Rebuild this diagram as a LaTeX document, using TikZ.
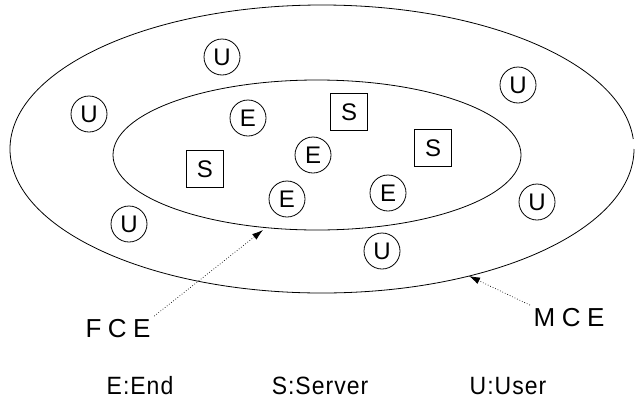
\documentclass[tikz,border=0pt]{standalone}
\usepackage{fontspec}
\setmainfont{Liberation Sans}
\newfontfamily\narrowfont[FakeStretch=0.92]{Liberation Sans}
\usetikzlibrary{arrows.meta}
\begin{document}
\begin{tikzpicture}[x=1pt,y=-1pt,line width=0.8pt,
  unode/.style={draw,circle,minimum size=36pt,inner sep=0pt,font=\fontsize{24}{24}\selectfont},
  snode/.style={draw,rectangle,minimum size=37pt,inner sep=0pt,font=\fontsize{24}{24}\selectfont},
  lbl/.style={font=\fontsize{26}{26}\selectfont\addfontfeature{LetterSpace=25}},
  leg/.style={font=\narrowfont\fontsize{25}{25}\selectfont\addfontfeature{LetterSpace=4}},
  ptr/.style={dotted,line width=0.7pt,-{Latex[length=11pt,width=7pt]}}]
\useasboundingbox (0,0) rectangle (637,410);
% ellipses
\draw (322,149) ++(0:312 and 144) arc[start angle=0,end angle=356,x radius=312,y radius=144];
\draw (317,155) ellipse[x radius=204,y radius=75];
% users
\node[unode] (u1) at (222,57) {U};
\node[unode] (u2) at (89,114) {U};
\node[unode] (u3) at (518,85) {U};
\node[unode] (u4) at (129,224) {U};
\node[unode] (u5) at (537,202) {U};
\node[unode] (u6) at (382,251) {U};
% ends
\node[unode] (e1) at (248,118) {E};
\node[unode] (e2) at (313,155) {E};
\node[unode] (e3) at (287,199) {E};
\node[unode] (e4) at (388,193) {E};
% servers
\node[snode] (s1) at (349,112) {S};
\node[snode] (s2) at (433,148) {S};
\node[snode] (s3) at (205,169) {S};
% labels
\node[lbl] (fce) at (118,329) {FCE};
\node[lbl] (mce) at (569,318) {MCE};
\coordinate (fcetip) at (263,230);
\coordinate (mcetip) at (469,276);
\draw[ptr] (fce.north east) -- (fcetip);
\draw[ptr] (mce.north west) -- (mcetip);
% legend
\node[leg] (le) at (140,386) {E:End};
\node[leg] (ls) at (320,386) {S:Server};
\node[leg] (lu) at (508,386) {U:User};
\end{tikzpicture}
\end{document}
